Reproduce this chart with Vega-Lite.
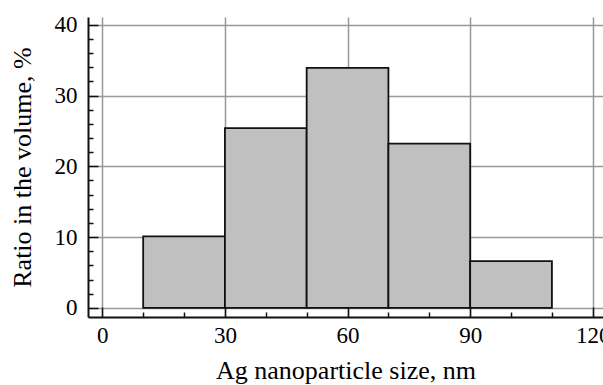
{
  "$schema": "https://vega.github.io/schema/vega-lite/v6.json",
  "width": 515,
  "height": 300,
  "autosize": {"type": "none"},
  "padding": {"left": 88, "top": 17, "right": 0, "bottom": 68},
  "background": "white",
  "config": {
    "view": {"stroke": null},
    "font": "Liberation Serif"
  },
  "data": {
    "values": [
      {"start": 10, "end": 30, "ratio": 10.1},
      {"start": 30, "end": 50, "ratio": 25.4},
      {"start": 50, "end": 70, "ratio": 33.9},
      {"start": 70, "end": 90, "ratio": 23.2},
      {"start": 90, "end": 110, "ratio": 6.6}
    ]
  },
  "mark": {"type": "rect", "fill": "#c0c0c0", "stroke": "#111111", "strokeWidth": 1.8},
  "encoding": {
    "x": {
      "field": "start",
      "type": "quantitative",
      "scale": {"domain": [-3.5, 122.5], "nice": false, "zero": false},
      "axis": {
        "title": "Ag nanoparticle size, nm",
        "values": [0, 10, 20, 30, 40, 50, 60, 70, 80, 90, 100, 110, 120],
        "labelExpr": "datum.value % 30 === 0 ? datum.label : ''",
        "labelFontSize": 23,
        "labelColor": "#000000",
        "labelPadding": 17,
        "labelFlush": false,
        "labelOverlap": false,
        "tickSize": {"condition": {"test": "datum.value % 30 === 0", "value": -10}, "value": -5},
        "tickColor": "#111111",
        "tickWidth": 1.5,
        "domainColor": "#111111",
        "domainWidth": 2,
        "grid": true,
        "gridColor": "#999999",
        "gridWidth": 1.5,
        "gridOpacity": {"condition": {"test": "datum.value % 30 === 0", "value": 1}, "value": 0},
        "titleFontSize": 26,
        "titleFontWeight": "normal",
        "titleColor": "#000000",
        "titleBaseline": "alphabetic",
        "titleY": 61
      }
    },
    "x2": {"field": "end"},
    "y": {
      "field": "ratio",
      "type": "quantitative",
      "scale": {"domain": [-1.3, 41.1], "nice": false, "zero": false},
      "axis": {
        "title": "Ratio in the volume, %",
        "values": [0, 2, 4, 6, 8, 10, 12, 14, 16, 18, 20, 22, 24, 26, 28, 30, 32, 34, 36, 38, 40],
        "labelExpr": "datum.value % 10 === 0 ? datum.label : ''",
        "labelFontSize": 23,
        "labelColor": "#000000",
        "labelPadding": 21,
        "labelFlush": false,
        "labelOverlap": false,
        "tickSize": {"condition": {"test": "datum.value % 10 === 0", "value": -10}, "value": -5},
        "tickColor": "#111111",
        "tickWidth": 1.5,
        "domainColor": "#111111",
        "domainWidth": 2,
        "grid": true,
        "gridColor": "#999999",
        "gridWidth": 1.5,
        "gridOpacity": {"condition": {"test": "datum.value % 10 === 0", "value": 1}, "value": 0},
        "titleFontSize": 26,
        "titleFontWeight": "normal",
        "titleColor": "#000000",
        "titleAngle": -90,
        "titleBaseline": "alphabetic",
        "titleX": -58,
        "titleY": 150
      }
    },
    "y2": {"datum": 0}
  }
}
